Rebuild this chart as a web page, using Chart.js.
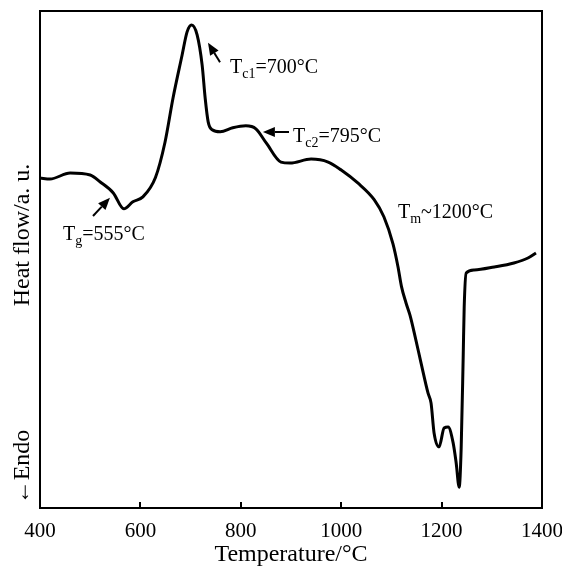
<!DOCTYPE html>
<html>
<head>
<meta charset="utf-8">
<script src="https://cdn.jsdelivr.net/npm/chart.js@4.4.1/dist/chart.umd.min.js"></script>
<style>
  body { margin: 0; background: #fff; }
  #wrap { width: 562px; height: 571px; }
</style>
</head>
<body>
<div id="wrap"><canvas id="dsc"></canvas></div>
<script>
// DSC curve (temperature in °C, heat flow in arbitrary units)
const temperature = [400, 420, 460, 500, 520, 546, 567, 585, 605, 630, 649, 665, 683, 693, 702,
  713, 723, 729, 735, 743, 759, 784, 810, 830, 851, 880, 898, 940, 974, 1000, 1033, 1066, 1085,
  1103, 1113, 1120, 1129, 1137, 1147, 1159, 1173, 1179, 1185, 1195, 1205, 1213, 1223, 1229, 1235,
  1239, 1243, 1245, 1249, 1265, 1305, 1344, 1372, 1388];
const heatFlow = [66.4, 66.2, 67.4, 67.0, 65.6, 63.4, 60.2, 61.6, 62.6, 66.5, 73.6, 82.5, 91.1, 95.8, 97.2,
  95.2, 89.1, 82.5, 77.7, 76.1, 75.7, 76.5, 76.9, 76.3, 73.4, 69.6, 69.4, 70.2, 69.6, 68.0, 65.4, 62.0, 58.6,
  53.2, 48.6, 44.6, 41.3, 38.8, 34.6, 29.2, 23.1, 21.1, 15.1, 12.3, 16.1, 16.3, 13.1, 9.1, 4.2,
  12.1, 30.4, 40.4, 47.3, 47.9, 48.5, 49.3, 50.3, 51.3];
const xTicks = [400, 600, 800, 1000, 1200, 1400];
const xTitle = 'Temperature/°C';
const yTitle = 'Heat flow/a. u.';
const endoLabel = '←Endo';

// labels: letter, subscript, rest; placed in data units
const notes = [
  { main: 'T', sub: 'g', rest: '=555°C', x: 446, y: 53.9, arrow: [505.6, 58.75, 539.4, 62.4] },
  { main: 'T', sub: 'c1', rest: '=700°C', x: 778.5, y: 87.5, arrow: [758.6, 89.7, 734.7, 93.6] },
  { main: 'T', sub: 'c2', rest: '=795°C', x: 904, y: 73.6, arrow: [896, 75.65, 844, 75.65] },
  { main: 'T', sub: 'm', rest: '~1200°C', x: 1113, y: 58.35, arrow: null }
];

const SERIF = '"Liberation Serif", "Times New Roman", serif';

const points = temperature.map((t, i) => ({ x: t, y: heatFlow[i] }));

const framePlugin = {
  id: 'frame',
  afterDraw(chart) {
    const { ctx, chartArea: a, scales: { x, y } } = chart;
    ctx.save();
    ctx.strokeStyle = '#000';
    ctx.fillStyle = '#000';
    ctx.lineWidth = 2;
    ctx.strokeRect(a.left, a.top, a.right - a.left, a.bottom - a.top);

    // inward tick marks
    ctx.beginPath();
    xTicks.forEach(v => {
      const px = Math.round(x.getPixelForValue(v));
      ctx.moveTo(px, a.bottom);
      ctx.lineTo(px, a.bottom - 6);
    });
    ctx.stroke();

    // y title pieces
    ctx.font = '24px ' + SERIF;
    ctx.textAlign = 'center';
    ctx.textBaseline = 'middle';
    ctx.save();
    ctx.translate(23, 235);
    ctx.rotate(-Math.PI / 2);
    ctx.fillText(yTitle, 0, 0);
    ctx.restore();
    ctx.save();
    ctx.translate(23, 467);
    ctx.rotate(-Math.PI / 2);
    ctx.fillText(endoLabel, 0, 0);
    ctx.restore();

    // annotations
    ctx.textAlign = 'left';
    ctx.textBaseline = 'alphabetic';
    notes.forEach(n => {
      let px = x.getPixelForValue(n.x);
      const py = y.getPixelForValue(n.y);
      ctx.font = '20px ' + SERIF;
      ctx.fillText(n.main, px, py);
      px += ctx.measureText(n.main).width;
      ctx.font = '14px ' + SERIF;
      ctx.fillText(n.sub, px, py + 5);
      px += ctx.measureText(n.sub).width;
      ctx.font = '20px ' + SERIF;
      ctx.fillText(n.rest, px, py);

      if (n.arrow) {
        const x0 = x.getPixelForValue(n.arrow[0]), y0 = y.getPixelForValue(n.arrow[1]);
        const x1 = x.getPixelForValue(n.arrow[2]), y1 = y.getPixelForValue(n.arrow[3]);
        const ang = Math.atan2(y1 - y0, x1 - x0);
        const hl = 12, hw = 5;
        const bx = x1 - hl * Math.cos(ang), by = y1 - hl * Math.sin(ang);
        ctx.lineWidth = 2;
        ctx.beginPath();
        ctx.moveTo(x0, y0);
        ctx.lineTo(bx, by);
        ctx.stroke();
        ctx.beginPath();
        ctx.moveTo(x1, y1);
        ctx.lineTo(bx + hw * Math.sin(ang), by - hw * Math.cos(ang));
        ctx.lineTo(bx - hw * Math.sin(ang), by + hw * Math.cos(ang));
        ctx.closePath();
        ctx.fill();
      }
    });
    ctx.restore();
  }
};

const ctx = document.getElementById('dsc');

const config = {
  type: 'line',
  data: {
    datasets: [{
      data: points,
      borderColor: '#000',
      borderWidth: 3,
      pointRadius: 0,
      fill: false,
      cubicInterpolationMode: 'monotone'
    }]
  },
  options: {
    responsive: true,
    maintainAspectRatio: false,
    animation: false,
    events: [],
    layout: { padding: { top: 11, right: 20, bottom: 0, left: 0 } },
    plugins: {
      legend: { display: false },
      tooltip: { enabled: false }
    },
    scales: {
      x: {
        type: 'linear',
        min: 400,
        max: 1400,
        afterBuildTicks(scale) {
          scale.ticks = xTicks.map(v => ({ value: v }));
        },
        afterFit(scale) {
          scale.height = 63;
          scale.paddingLeft = 0;
          scale.paddingRight = 0;
        },
        grid: { display: false, drawTicks: false },
        border: { display: false },
        ticks: {
          color: '#000',
          padding: 11,
          maxRotation: 0,
          callback: v => String(v),
          font: { family: SERIF, size: 21, lineHeight: 1.2 }
        },
        title: {
          display: true,
          text: xTitle,
          color: '#000',
          padding: { top: 0, bottom: 2 },
          font: { family: SERIF, size: 24, lineHeight: 1.2 }
        }
      },
      y: {
        min: 0,
        max: 100,
        afterFit(scale) {
          scale.width = 40;
          scale.paddingTop = 0;
          scale.paddingBottom = 0;
        },
        grid: { display: false, drawTicks: false },
        border: { display: false },
        ticks: { display: false }
      }
    }
  },
  plugins: [framePlugin]
};

new Chart(ctx, config);
</script>
</body>
</html>
